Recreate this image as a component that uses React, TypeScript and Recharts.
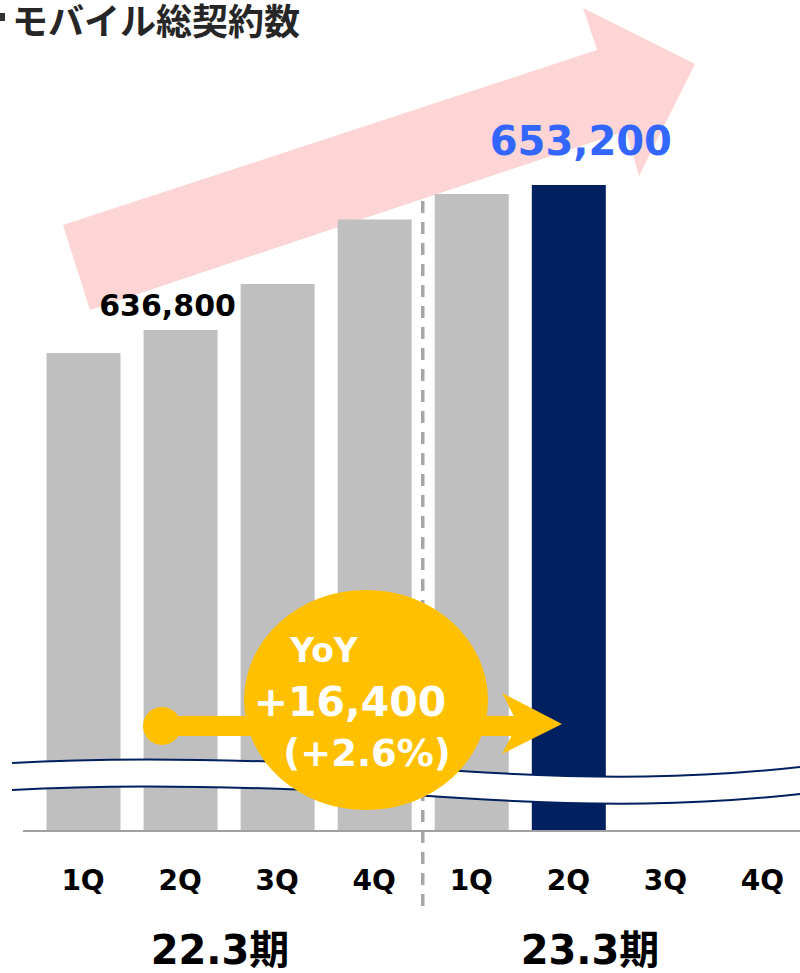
import { Bar, BarChart, Cell, LabelList, ReferenceLine, XAxis, YAxis } from 'recharts'

const quarterLabels = ['1Q', '2Q', '3Q', '4Q']
const periodLabels = ['22.3期', '23.3期']
const contractsFy22 = [634200, 636800, 642000, 649300]
const contractsFy23 = [652200, 653200, null, null]
const yoyLines = ['YoY', '+16,400', '(+2.6%)']
const yDomain = [580100, 660000]

const data = periodLabels.flatMap((p, pi) =>
  quarterLabels.map((q, qi) => ({
    key: `${p}-${q}`,
    quarter: q,
    value: (pi === 0 ? contractsFy22 : contractsFy23)[qi],
  })),
)

const LATIN = '"DejaVu Sans", "Noto Sans CJK JP", sans-serif'
const CJK = '"Noto Sans CJK JP", sans-serif'
const GRAY = '#BFBFBF'
const NAVY = '#002060'
const YELLOW = '#FFC000'

const fmt = (v: number) => v.toLocaleString('en-US')

function QuarterTick({ x, y, payload }: any) {
  const q = String(payload.value).split('-')[1]
  return (
    <text x={x} y={y + 59} textAnchor="middle" fontSize={28} fontWeight={700} fontFamily={LATIN} fill="#000">
      {q}
    </text>
  )
}

function ValueLabel({ x, y, width, value, index }: any) {
  if (value == null) return null
  const cx = x + width / 2
  if (index === 1) {
    return (
      <text x={cx - 13} y={y - 14} textAnchor="middle" fontSize={30} fontWeight={700} fontFamily={LATIN} fill="#000">
        {fmt(value)}
      </text>
    )
  }
  if (index === 5) {
    return (
      <text x={cx + 12} y={y - 30} textAnchor="middle" fontSize={40} fontWeight={700} fontFamily={LATIN} fill="#3366FF">
        {fmt(value)}
      </text>
    )
  }
  return null
}

export default function App() {
  return (
    <div style={{ position: 'absolute', left: 0, top: 0, width: 800, height: 973, overflow: 'hidden', background: '#fff' }}>
      {/* big pink trend arrow, behind the bars */}
      <svg width={800} height={973} style={{ position: 'absolute', left: 0, top: 0 }}>
        <polygon points="63,225 597,50 583,8 695,64 639,176 626,131 90,310" fill="#FDD5D5" />
        <line x1={23} x2={36} y1={831} y2={831} stroke="#A0A0A0" strokeWidth={2} />
      </svg>

      <div style={{ position: 'absolute', left: 0, top: 0 }}>
        <BarChart width={811} height={973} data={data} margin={{ top: 125, right: 0, left: 34.5, bottom: 82 }}>
          <XAxis
            dataKey="key"
            height={60}
            tick={<QuarterTick />}
            tickLine={false}
            tickSize={0}
            tickMargin={0}
            interval={0}
            axisLine={{ stroke: '#A0A0A0', strokeWidth: 2 }}
          />
          <YAxis hide domain={yDomain} allowDataOverflow />
          <ReferenceLine
            segment={[
              { x: '22.3期-4Q', y: 651400 },
              { x: '22.3期-4Q', y: 570600 },
            ]}
            position="end"
            ifOverflow="visible"
            stroke="#A6A6A6"
            strokeWidth={3.5}
            strokeDasharray="12 9"
          />
          <Bar dataKey="value" barSize={74} isAnimationActive={false}>
            {data.map((d, i) => (
              <Cell key={d.key} fill={i === 5 ? NAVY : GRAY} />
            ))}
            <LabelList dataKey="value" content={<ValueLabel />} />
          </Bar>
        </BarChart>
      </div>

      {/* axis break, YoY bubble, titles */}
      <svg width={800} height={973} style={{ position: 'absolute', left: 0, top: 0, pointerEvents: 'none' }}>
        <path
          d="M12,763 C150,755 320,762 460,771 C600,780 700,778 800,767 L800,794 C700,805 600,807 460,798 C320,789 150,782 12,790 Z"
          fill="#fff"
        />
        <path d="M12,763 C150,755 320,762 460,771 C600,780 700,778 800,767" fill="none" stroke={NAVY} strokeWidth={2} />
        <path d="M12,790 C150,782 320,789 460,798 C600,807 700,805 800,794" fill="none" stroke={NAVY} strokeWidth={2} />

        <ellipse cx={366} cy={700} rx={122} ry={110} fill={YELLOW} />
        <circle cx={162} cy={726} r={19} fill={YELLOW} />
        <rect x={162} y={716} width={356} height={20} fill={YELLOW} />
        <polygon points="502,693 562,724 502,754 518,724" fill={YELLOW} />

        <text x={324} y={662} textAnchor="middle" fontSize={33} fontWeight={700} fontFamily={LATIN} fill="#fff">
          {yoyLines[0]}
        </text>
        <text x={350} y={716} textAnchor="middle" fontSize={41} fontWeight={700} fontFamily={LATIN} fill="#fff">
          {yoyLines[1]}
        </text>
        <text x={367} y={766} textAnchor="middle" fontSize={37} fontWeight={700} fontFamily={LATIN} fill="#fff">
          {yoyLines[2]}
        </text>

        <rect x={0} y={13} width={5} height={8} fill="#333" />
        <text x={12} y={35} fontSize={36} fontWeight={700} fontFamily={CJK} fill="#262626">
          モバイル総契約数
        </text>

        <text x={220} y={964} textAnchor="middle" fontSize={40} fontWeight={700} fontFamily={LATIN} fill="#000">
          {periodLabels[0]}
        </text>
        <text x={590} y={964} textAnchor="middle" fontSize={40} fontWeight={700} fontFamily={LATIN} fill="#000">
          {periodLabels[1]}
        </text>
      </svg>
    </div>
  )
}
